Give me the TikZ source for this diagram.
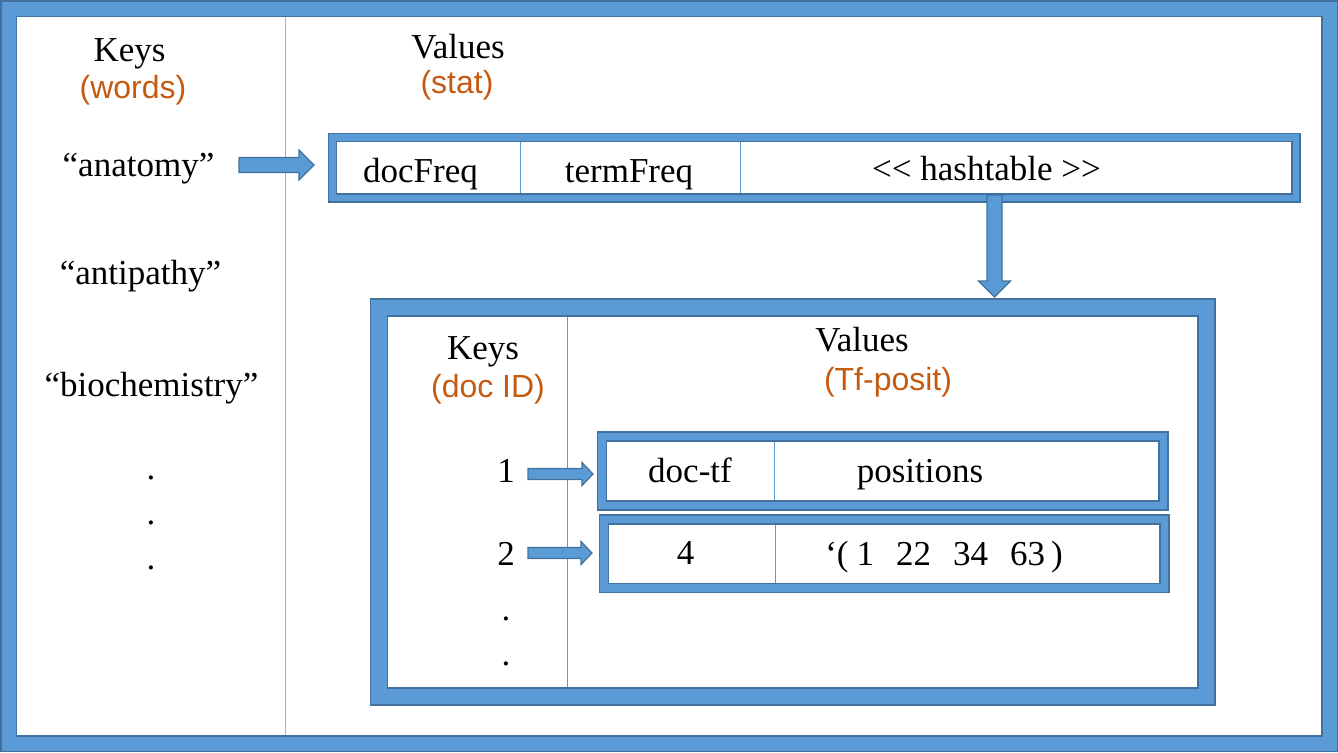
\documentclass[tikz,border=0pt]{standalone}
\usepackage{fontspec}
\setmainfont{Liberation Serif}
\newfontfamily\labelfont{Liberation Sans}
\usetikzlibrary{fit, calc}
\definecolor{bandblue}{HTML}{5B9BD5}
\definecolor{bandedge}{HTML}{41719C}
\definecolor{statorange}{HTML}{C55A11}

% fat block arrow: from, to, half body, half head, head length
\newcommand{\blockarrow}[5]{%
  \coordinate (hb) at ($(#2)!#5!(#1)$);
  \draw[barrow] ($(#1)!#3!90:(#2)$) -- ($(hb)!#3!90:(#2)$) -- ($(hb)!#4!90:(#2)$) -- (#2)
    -- ($(hb)!#4!-90:(#2)$) -- ($(hb)!#3!-90:(#2)$) -- ($(#1)!#3!-90:(#2)$) -- cycle;}

\begin{document}
\begin{tikzpicture}[x=0.5pt, y=-0.5pt]
\tikzstyle{frame}=[draw=bandedge, line width=0.75pt, double=bandblue, inner sep=0pt]
\tikzstyle{word}=[font=\fontsize{17.5}{20}\selectfont, anchor=base, inner sep=0pt]
\tikzstyle{note}=[font=\labelfont\fontsize{16}{19}\selectfont, text=statorange, anchor=base, inner sep=0pt]
\tikzstyle{divider}=[draw=bandblue, line width=0.5pt]
\tikzstyle{barrow}=[fill=bandblue, draw=bandedge, line width=0.6pt, line join=miter]
\useasboundingbox (0,0) rectangle (1338,752);
% column lines first, the frames cover their ends
\draw[divider, draw=bandblue!70] (285,0) -- (285,752);
\draw[divider] (567,307) -- (567,697);
\draw[divider] (520,137) -- (520,198);
\draw[divider] (740,137) -- (740,198);
\draw[divider] (774,436) -- (774,506);
\draw[divider] (775,519) -- (775,588);
% frames
\node[frame, double distance=7pt, fit={(8.5,8.5) (1329.5,743.5)}] (table) {};
\node[frame, double distance=3.25pt, fit={(332.5,137.5) (1296,198)}] (statrec) {};
\node[frame, double distance=7.75pt, fit={(379,307.5) (1206.5,696.5)}] (docs) {};
\node[frame, double distance=3.75pt, fit={(602,436.5) (1163.5,505.5)}] (row1) {};
\node[frame, double distance=3.75pt, fit={(604,519.5) (1164.5,588)}] (row2) {};
% outer table
\node[word] (keys) at (129.5,61) {Keys};
\node[note] (words) at (133,98) {(words)};
\node[word] (values) at (458,58) {Values};
\node[note] (stat) at (457,93) {(stat)};
\node[word] (anatomy) at (138.5,176) {“anatomy”};
\node[word] (antipathy) at (140.5,284) {“antipathy”};
\node[word] (biochem) at (151.5,396) {“biochemistry”};
\foreach \y in {479,524,569}
  \node[word] (dot\y) at (151,\y) {.};
\node[word] (docfreq) at (420.5,182) {docFreq};
\node[word] (termfreq) at (629,182) {termFreq};
\node[word] (hashtab) at (986.5,180) {{<}{<} hashtable {>}{>}};
% inner table
\node[word] (dockeys) at (483,359) {Keys};
\node[note] (docid) at (488,397) {(doc ID)};
\node[word] (docvalues) at (862,351) {Values};
\node[note] (tfposit) at (888,390) {(Tf-posit)};
\node[word] (id1) at (506,482) {1};
\node[word] (id2) at (506,565) {2};
\foreach \y in {620,665}
  \node[word] (idot\y) at (506,\y) {.};
\node[word] (doctf) at (690,482) {doc-tf};
\node[word] (positions) at (920,482) {positions};
\node[word] (tfval) at (685.5,564) {4};
\node[word] (posval) at (944,565) {‘(\hspace{4pt}1\hspace{11pt}22\hspace{11pt}34\hspace{11pt}63\hspace{3pt})};
% arrows
\coordinate (w0) at (239,165);
\coordinate (w1) at (314,165);
\coordinate (h0) at (994.5,195);
\coordinate (h1) at (994.5,297);
\coordinate (d10) at (528,474);
\coordinate (d11) at (593,474);
\coordinate (d20) at (528,553);
\coordinate (d21) at (592,553);
\blockarrow{w0}{w1}{3.75pt}{7.5pt}{7.5pt}
\blockarrow{h0}{h1}{3.75pt}{8pt}{8pt}
\blockarrow{d10}{d11}{2.75pt}{5.75pt}{5.5pt}
\blockarrow{d20}{d21}{2.75pt}{5.75pt}{5.5pt}
\end{tikzpicture}
\end{document}
